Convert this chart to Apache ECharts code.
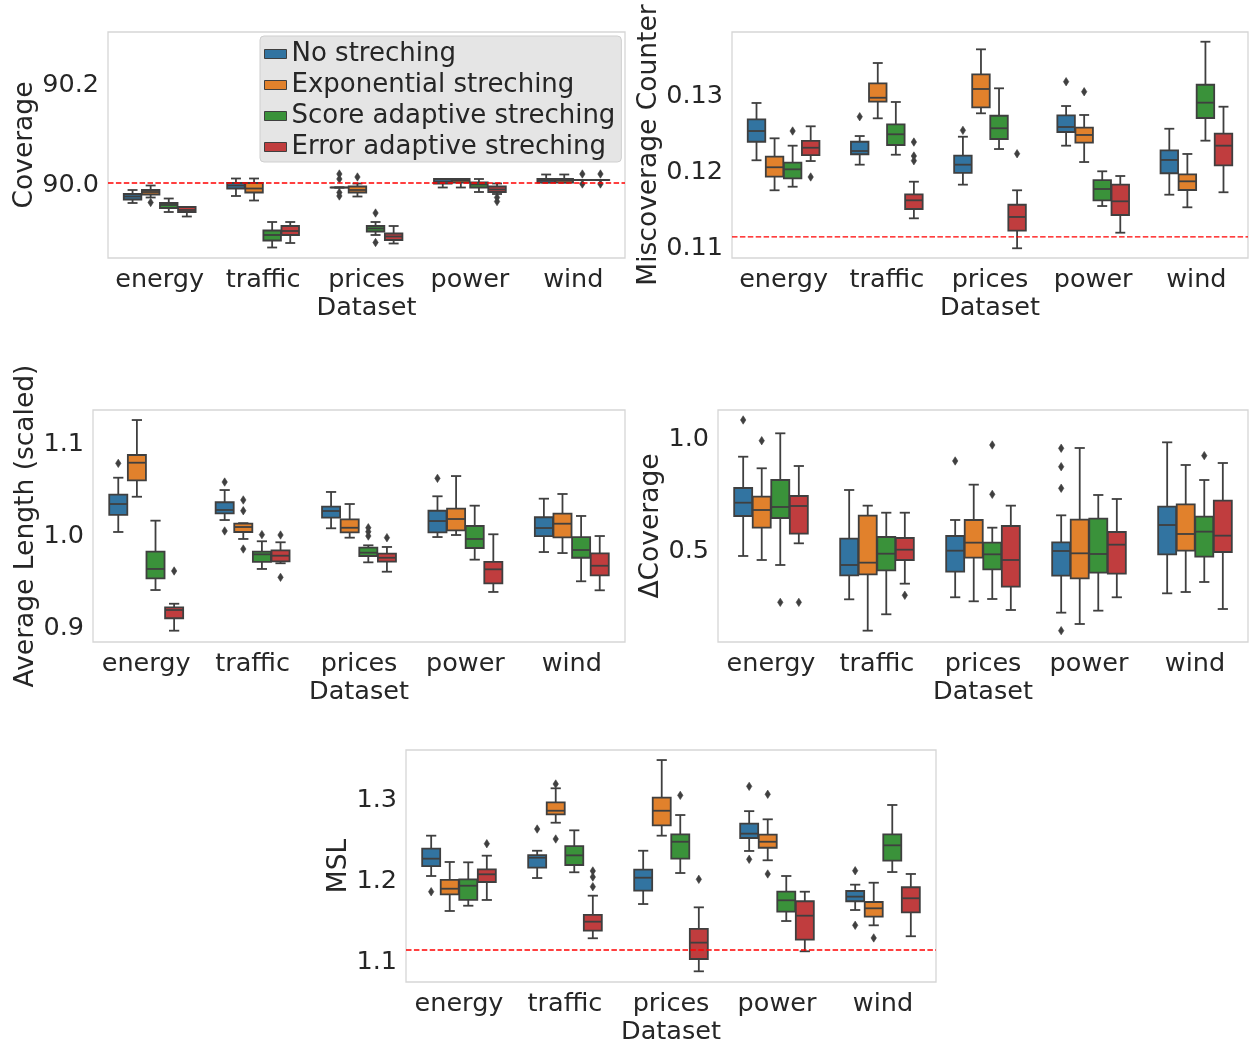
<!DOCTYPE html>
<html>
<head>
<meta charset="utf-8">
<script src="https://cdn.jsdelivr.net/npm/echarts@6/dist/echarts.min.js"></script>
<style>
html,body{margin:0;padding:0;background:#fff;}
#chart{width:1249px;height:1046px;}
</style>
</head>
<body>
<div id="chart"></div>
<script>
// ---------------- data ----------------
const datasets = ['energy', 'traffic', 'prices', 'power', 'wind'];
const methods = ['No streching', 'Exponential streching', 'Score adaptive streching', 'Error adaptive streching'];

// box stats per dataset: [whisker low, q1, median, q3, whisker high]
// --- Coverage ---
const covNone  = [[89.960, 89.967, 89.973, 89.978, 89.986], [89.974, 89.989, 89.995, 90.000, 90.009], [89.991, 89.991, 89.991, 89.991, 89.991], [89.991, 89.999, 90.003, 90.008, 90.008], [90.001, 90.001, 90.005, 90.008, 90.017]];
const covExp   = [[89.971, 89.977, 89.982, 89.986, 89.995], [89.965, 89.981, 89.989, 90.000, 90.009], [89.973, 89.981, 89.986, 89.993, 89.999], [89.991, 90.001, 90.005, 90.008, 90.008], [90.001, 90.001, 90.005, 90.008, 90.017]];
const covScore = [[89.942, 89.950, 89.956, 89.960, 89.969], [89.871, 89.885, 89.896, 89.905, 89.922], [89.896, 89.903, 89.909, 89.914, 89.922], [89.982, 89.991, 89.997, 90.001, 90.008], [90.006, 90.006, 90.006, 90.006, 90.006]];
const covErr   = [[89.933, 89.942, 89.946, 89.952, 89.952], [89.880, 89.896, 89.904, 89.914, 89.922], [89.879, 89.886, 89.893, 89.899, 89.914], [89.978, 89.982, 89.987, 89.993, 89.999], [90.006, 90.006, 90.006, 90.006, 90.006]];
// outliers: [dataset index, value]
const covNoneOut  = [[2, 90.018], [2, 90.008], [2, 89.981], [2, 89.974]];
const covExpOut   = [[0, 89.961], [2, 90.012]];
const covScoreOut = [[2, 89.940], [2, 89.881], [4, 90.018], [4, 89.998]];
const covErrOut   = [[3, 89.971], [3, 89.963], [4, 90.018], [4, 89.998]];
const covTicks = [90.0, 90.2];
const covTarget = 90.0;

// --- Miscoverage Counter ---
const misNone  = [[0.12128, 0.12372, 0.12513, 0.12667, 0.12882], [0.1207, 0.12207, 0.1225, 0.12372, 0.12447], [0.11807, 0.11961, 0.1207, 0.12188, 0.12438], [0.1232, 0.125, 0.12566, 0.1272, 0.12842], [0.11675, 0.11957, 0.12132, 0.12259, 0.12543]];
const misExp   = [[0.11733, 0.11912, 0.12036, 0.12175, 0.12417], [0.1268, 0.12899, 0.12951, 0.13141, 0.13408], [0.12746, 0.12825, 0.13066, 0.13259, 0.13588], [0.12105, 0.12359, 0.12461, 0.12557, 0.12724], [0.11509, 0.11737, 0.11851, 0.11943, 0.12211]];
const misScore = [[0.1178, 0.11891, 0.12009, 0.12096, 0.1232], [0.12201, 0.12329, 0.1247, 0.12601, 0.12895], [0.12276, 0.12408, 0.12549, 0.12714, 0.13075], [0.11526, 0.11601, 0.1175, 0.11868, 0.11983], [0.12386, 0.12684, 0.12886, 0.13122, 0.13688]];
const misErr   = [[0.12118, 0.12197, 0.12293, 0.12382, 0.12575], [0.11364, 0.11487, 0.11601, 0.1168, 0.11846], [0.1097, 0.11201, 0.11382, 0.11543, 0.11733], [0.11175, 0.11408, 0.11588, 0.11807, 0.11921], [0.11707, 0.12062, 0.1232, 0.12478, 0.12833]];
const misNoneOut  = [[1, 0.12701], [2, 0.12522], [3, 0.13162]];
const misExpOut   = [[3, 0.1303]];
const misScoreOut = [[0, 0.12513]];
const misErrOut   = [[0, 0.11908], [1, 0.12368], [1, 0.12184], [1, 0.12122], [2, 0.12214]];
const misTicks = [0.11, 0.12, 0.13];
const misTarget = 0.1112;

// --- Average Length (scaled) ---
const lenNone  = [[1.0022, 1.0207, 1.0326, 1.0427, 1.0612], [1.0152, 1.0225, 1.0261, 1.0345, 1.0478], [1.0062, 1.0177, 1.025, 1.0297, 1.0457], [0.9967, 1.0018, 1.0141, 1.0253, 1.041], [0.9804, 0.9978, 1.0065, 1.0182, 1.0384]];
const lenExp   = [[1.0405, 1.0584, 1.0775, 1.0859, 1.1239], [0.9946, 1.0022, 1.0076, 1.0112, 1.0118], [0.996, 1.0018, 1.0068, 1.016, 1.0326], [0.9989, 1.004, 1.0163, 1.0275, 1.063], [0.9793, 0.9964, 1.0112, 1.0221, 1.0435]];
const lenScore = [[0.9391, 0.9518, 0.962, 0.9808, 1.0145], [0.962, 0.9696, 0.9779, 0.9808, 0.9921], [0.9692, 0.9761, 0.9797, 0.9851, 0.9877], [0.9721, 0.9848, 0.9946, 1.0087, 1.0308], [0.9486, 0.9742, 0.9826, 0.9967, 1.0196]];
const lenErr   = [[0.8949, 0.9084, 0.9174, 0.9203, 0.9242], [0.9682, 0.9703, 0.9764, 0.9823, 0.991], [0.959, 0.9699, 0.9742, 0.9786, 0.9859], [0.937, 0.9464, 0.9616, 0.9696, 0.9997], [0.9388, 0.9551, 0.9655, 0.979, 0.9978]];
const lenNoneOut  = [[0, 1.0768], [1, 1.0565], [1, 1.0033], [3, 1.0605]];
const lenExpOut   = [[1, 1.037], [1, 1.0253], [1, 0.9837]];
const lenScoreOut = [[1, 0.9993], [2, 1.0068], [2, 1.0025], [2, 0.9978]];
const lenErrOut   = [[0, 0.9598], [1, 0.9989], [1, 0.9529], [2, 0.996]];
const lenTicks = [0.9, 1.0, 1.1];

// --- ΔCoverage ---
const dcNone  = [[0.4688, 0.6473, 0.7067, 0.7723, 0.912], [0.2753, 0.3824, 0.4286, 0.546, 0.7634], [0.2844, 0.3988, 0.4924, 0.558, 0.6295], [0.2158, 0.381, 0.4911, 0.5298, 0.6503], [0.3021, 0.4762, 0.6071, 0.689, 0.9762]];
const dcExp   = [[0.4509, 0.5951, 0.6741, 0.7335, 0.8603], [0.1354, 0.3869, 0.439, 0.6488, 0.6935], [0.2665, 0.4613, 0.5283, 0.6295, 0.7872], [0.1652, 0.369, 0.4807, 0.631, 0.9509], [0.308, 0.4926, 0.567, 0.6994, 0.875]];
const dcScore = [[0.4286, 0.6384, 0.6875, 0.808, 1.0164], [0.2085, 0.4048, 0.479, 0.5536, 0.662], [0.2768, 0.4094, 0.4762, 0.5283, 0.5952], [0.2247, 0.3943, 0.4777, 0.6354, 0.7411], [0.3527, 0.4658, 0.5774, 0.6443, 0.808]];
const dcErr   = [[0.5253, 0.5685, 0.692, 0.7366, 0.8705], [0.3452, 0.4509, 0.4969, 0.5491, 0.662], [0.2277, 0.3318, 0.4509, 0.6027, 0.6935], [0.2844, 0.3899, 0.5193, 0.5759, 0.7232], [0.2321, 0.4866, 0.5595, 0.7158, 0.8839]];
const dcNoneOut  = [[0, 1.0759], [2, 0.8929], [3, 0.9496], [3, 0.8674], [3, 0.771], [3, 0.1354]];
const dcExpOut   = [[0, 0.9835]];
const dcScoreOut = [[0, 0.2619], [2, 0.9643], [2, 0.744], [4, 0.9167]];
const dcErrOut   = [[0, 0.2619], [1, 0.2933]];
const dcTicks = [0.5, 1.0];

// --- MSL ---
const mslNone  = [[1.2037, 1.216, 1.2251, 1.2374, 1.2535], [1.2012, 1.214, 1.2263, 1.2296, 1.2349], [1.1691, 1.1856, 1.2016, 1.2115, 1.2349], [1.2346, 1.2506, 1.256, 1.2683, 1.2838], [1.1617, 1.1725, 1.1782, 1.1852, 1.193]];
const mslExp   = [[1.1605, 1.1811, 1.188, 1.1988, 1.221], [1.2695, 1.2799, 1.2843, 1.2947, 1.312], [1.2535, 1.2663, 1.2843, 1.3004, 1.3469], [1.2231, 1.2386, 1.246, 1.2547, 1.2737], [1.1428, 1.1535, 1.1638, 1.1716, 1.1954]];
const mslScore = [[1.167, 1.1741, 1.1917, 1.1996, 1.2206], [1.2083, 1.2173, 1.2292, 1.2407, 1.2601], [1.2074, 1.2251, 1.246, 1.2552, 1.279], [1.1481, 1.1596, 1.1737, 1.1843, 1.2037], [1.2086, 1.2226, 1.2416, 1.2552, 1.2914]];
const mslErr   = [[1.1741, 1.1963, 1.2058, 1.212, 1.2288], [1.1268, 1.1362, 1.1473, 1.1556, 1.1794], [1.086, 1.1012, 1.1214, 1.1383, 1.165], [1.1107, 1.1251, 1.1547, 1.1725, 1.1843], [1.1293, 1.1589, 1.1762, 1.1898, 1.2062]];
const mslNoneOut  = [[0, 1.1843], [1, 1.2617], [3, 1.3144], [3, 1.2243], [4, 1.2102], [4, 1.1428]];
const mslExpOut   = [[1, 1.3173], [1, 1.2494], [3, 1.3046], [3, 1.2062], [4, 1.1272]];
const mslScoreOut = [[2, 1.3033]];
const mslErrOut   = [[0, 1.2436], [1, 1.2099], [1, 1.2025], [1, 1.1905], [2, 1.1996]];
const mslTicks = [1.1, 1.2, 1.3];
const mslTarget = 1.1123;

// ---------------- layout & style ----------------
const FONT = 'DejaVu Sans';
const FS = 25.5;
const FS_NAME = 26.5;
const FS_LEGEND = 26;
const TXT = '#262626';
const EDGE = '#3f3f3f';
const COLORS = ['#3274a1', '#e1812c', '#3a923a', '#c03d3e'];
const SLOT = 0.175;

const panels = [
  { stats: [covNone, covExp, covScore, covErr], outs: [covNoneOut, covExpOut, covScoreOut, covErrOut], ticks: covTicks, dec: 1, target: covTarget,
    name: 'Coverage', box: { left: 108, top: 32, width: 517, height: 226 }, min: 89.85, max: 90.302, nameGap: 66 },
  { stats: [misNone, misExp, misScore, misErr], outs: [misNoneOut, misExpOut, misScoreOut, misErrOut], ticks: misTicks, dec: 2, target: misTarget,
    name: 'Miscoverage Counter', box: { left: 732, top: 32, width: 516, height: 226 }, min: 0.10842, max: 0.13816, nameGap: 69 },
  { stats: [lenNone, lenExp, lenScore, lenErr], outs: [lenNoneOut, lenExpOut, lenScoreOut, lenErrOut], ticks: lenTicks, dec: 1, target: null,
    name: 'Average Length (scaled)', box: { left: 93, top: 410, width: 532, height: 232 }, min: 0.8826, max: 1.1348, nameGap: 53 },
  { stats: [dcNone, dcExp, dcScore, dcErr], outs: [dcNoneOut, dcExpOut, dcScoreOut, dcErrOut], ticks: dcTicks, dec: 1, target: null,
    name: 'ΔCoverage', box: { left: 718, top: 410, width: 530, height: 232 }, min: 0.0848, max: 1.1205, nameGap: 53 },
  { stats: [mslNone, mslExp, mslScore, mslErr], outs: [mslNoneOut, mslExpOut, mslScoreOut, mslErrOut], ticks: mslTicks, dec: 1, target: mslTarget,
    name: 'MSL', box: { left: 406, top: 750, width: 530, height: 232 }, min: 1.0728, max: 1.3593, nameGap: 51 }
];

function boxRenderer(hue, color) {
  return function (params, api) {
    const cat = api.value(0);
    const band = api.size([1, 0])[0];
    const w = band * SLOT;
    const cx = api.coord([cat, api.value(3)])[0] + (hue - 1.5) * w;
    const yy = k => api.coord([cat, api.value(k)])[1];
    const yLo = yy(1), yQ1 = yy(2), yMed = yy(3), yQ3 = yy(4), yHi = yy(5);
    const bw = w * 0.97, cap = w * 0.55;
    const ls = { stroke: EDGE, lineWidth: 1.8, fill: null };
    return {
      type: 'group',
      children: [
        { type: 'line', shape: { x1: cx, y1: yHi, x2: cx, y2: yQ3 }, style: ls },
        { type: 'line', shape: { x1: cx, y1: yQ1, x2: cx, y2: yLo }, style: ls },
        { type: 'line', shape: { x1: cx - cap / 2, y1: yHi, x2: cx + cap / 2, y2: yHi }, style: ls },
        { type: 'line', shape: { x1: cx - cap / 2, y1: yLo, x2: cx + cap / 2, y2: yLo }, style: ls },
        { type: 'rect', shape: { x: cx - bw / 2, y: yQ3, width: bw, height: Math.max(yQ1 - yQ3, 0.01) }, style: { fill: color, stroke: EDGE, lineWidth: 1.8 } },
        { type: 'line', shape: { x1: cx - bw / 2, y1: yMed, x2: cx + bw / 2, y2: yMed }, style: ls }
      ]
    };
  };
}

function outRenderer(hue) {
  return function (params, api) {
    const cat = api.value(0);
    const band = api.size([1, 0])[0];
    const w = band * SLOT;
    const p = api.coord([cat, api.value(1)]);
    const cx = p[0] + (hue - 1.5) * w, cy = p[1];
    return {
      type: 'polygon',
      shape: { points: [[cx, cy - 4.2], [cx + 2.7, cy], [cx, cy + 4.2], [cx - 2.7, cy]] },
      style: { fill: EDGE, stroke: EDGE, lineWidth: 0.6 }
    };
  };
}

function refRenderer(params, api) {
  const cs = params.coordSys;
  const y = api.coord([0, api.value(1)])[1];
  return {
    type: 'line',
    shape: { x1: cs.x, y1: y, x2: cs.x + cs.width, y2: y },
    style: { stroke: '#ff0000', lineWidth: 1.4, lineDash: [5.5, 2.4] }
  };
}

const grids = [], xAxes = [], yAxes = [], series = [];
panels.forEach((p, pi) => {
  grids.push(Object.assign({ show: true, borderColor: '#d6d6d6', borderWidth: 1.3, backgroundColor: '#fff' }, p.box));
  xAxes.push({
    type: 'category', gridIndex: pi, data: datasets,
    axisLine: { show: false }, axisTick: { show: false }, splitLine: { show: false },
    axisLabel: { fontFamily: FONT, fontSize: FS, color: TXT, margin: 9, interval: 0, hideOverlap: false },
    name: 'Dataset', nameLocation: 'middle', nameGap: 37,
    nameTextStyle: { fontFamily: FONT, fontSize: FS, color: TXT }
  });
  yAxes.push({
    type: 'value', gridIndex: pi, min: p.min, max: p.max,
    axisLine: { show: false }, axisTick: { show: false }, splitLine: { show: false },
    axisLabel: {
      fontFamily: FONT, fontSize: FS, color: TXT, margin: 9, customValues: p.ticks,
      formatter: v => '{t|' + Number(v).toFixed(p.dec) + '}',
      rich: { t: { fontFamily: FONT, fontSize: FS, color: TXT, padding: [5, 0, 0, 0] } }
    },
    name: p.name, nameLocation: 'middle', nameGap: p.nameGap,
    nameTextStyle: { fontFamily: FONT, fontSize: FS_NAME, color: TXT }
  });
  p.stats.forEach((st, hue) => {
    series.push({
      type: 'custom', name: methods[hue], xAxisIndex: pi, yAxisIndex: pi,
      itemStyle: { color: COLORS[hue] },
      renderItem: boxRenderer(hue, COLORS[hue]),
      encode: { x: 0, y: [1, 2, 3, 4, 5] },
      data: st.map((s, i) => [i].concat(s)),
      silent: true, z: 2
    });
  });
  p.outs.forEach((o, hue) => {
    series.push({
      type: 'custom', name: 'outliers-' + pi + '-' + hue, xAxisIndex: pi, yAxisIndex: pi,
      renderItem: outRenderer(hue), encode: { x: 0, y: 1 },
      data: o, silent: true, z: 3
    });
  });
  if (p.target !== null) {
    series.push({
      type: 'custom', name: 'target-' + pi, xAxisIndex: pi, yAxisIndex: pi,
      renderItem: refRenderer, encode: { x: 0, y: 1 },
      data: [[0, p.target]], silent: true, z: 4
    });
  }
});

const chart = echarts.init(document.getElementById('chart'), null, { renderer: 'canvas' });
chart.setOption({
  animation: false,
  backgroundColor: '#ffffff',
  grid: grids, xAxis: xAxes, yAxis: yAxes, series: series,
  legend: {
    orient: 'vertical', left: 260, top: 36,
    backgroundColor: '#e5e5e5', borderColor: '#cfcfcf', borderWidth: 1, borderRadius: 4,
    padding: [4, 6, 1, 4], itemGap: 3, itemWidth: 22, itemHeight: 9,
    icon: 'rect',
    itemStyle: { borderColor: EDGE, borderWidth: 1 },
    textStyle: { fontFamily: FONT, fontSize: FS_LEGEND, color: TXT, lineHeight: 28 },
    data: methods.map((m, i) => ({ name: m, itemStyle: { color: COLORS[i] } })),
    selectedMode: false
  }
});
</script>
</body>
</html>
